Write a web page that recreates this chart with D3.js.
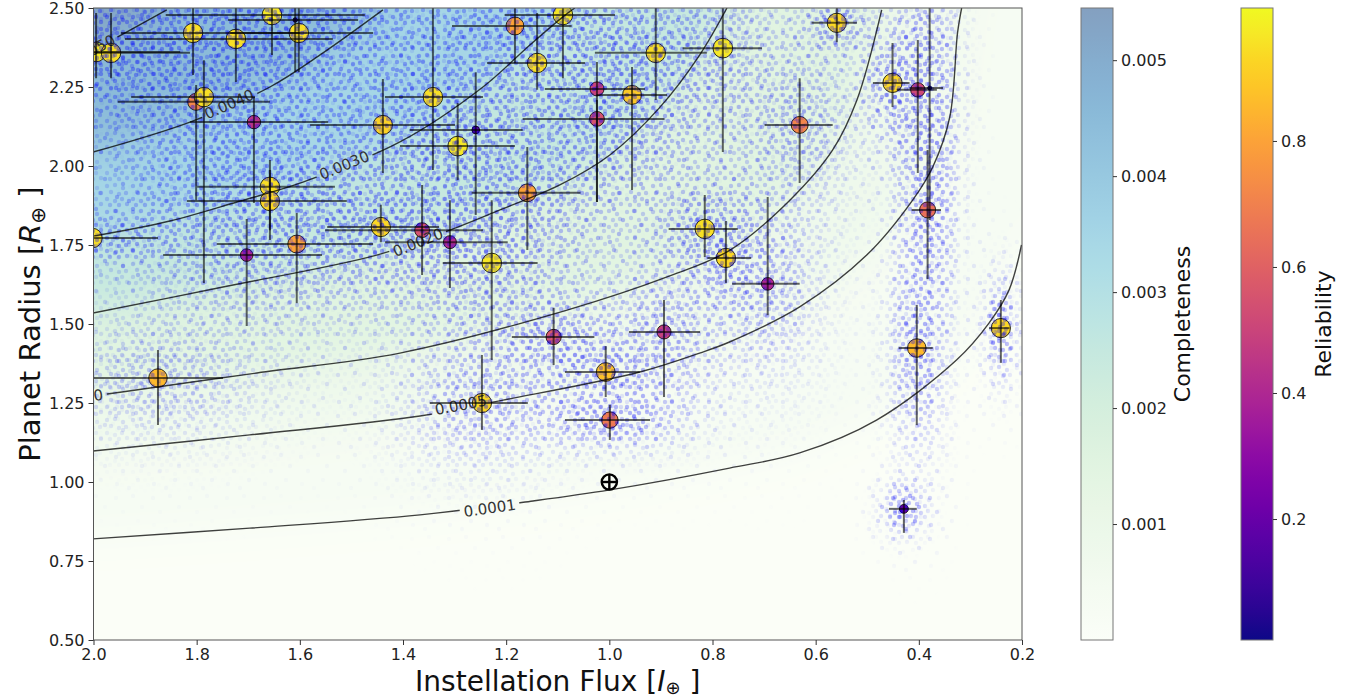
<!DOCTYPE html>
<html>
<head>
<meta charset="utf-8">
<script src="https://cdn.jsdelivr.net/npm/d3@7"></script>
<style>
  body { margin: 0; background: #fff; }
  svg text { font-family: "DejaVu Sans", sans-serif; }
</style>
</head>
<body>
<div id="viz"></div>
<script>
// planet candidates: instellation flux, radius, error bar ends, reliability
const flux     = [1.995, 1.966, 1.807, 1.724, 1.654, 1.602, 1.609, 1.801, 1.786, 1.689, 1.439, 1.658, 1.658, 1.183, 1.090, 1.140, 1.342, 1.294, 1.259, 1.159, 1.024, 1.024, 0.956, 0.910, 0.780, 0.559, 0.631, 0.451, 0.402, 0.379, 0.383, 1.363, 1.309, 1.443, 1.228, 1.703, 1.606, 2.002, 1.875, 1.108, 0.894, 1.007, 1.247, 0.999, 0.815, 0.774, 0.693, 0.404, 0.241, 0.429];
const fluxLo   = [1.832, 1.813, 1.600, 1.536, 1.474, 1.458, 1.487, 1.658, 1.687, 1.545, 1.299, 1.532, 1.509, 1.073, 0.989, 1.047, 1.245, 1.183, 1.168, 1.056, 0.931, 0.893, 0.888, 0.811, 0.704, 0.520, 0.567, 0.418, 0.365, 0.353, 0.357, 1.245, 1.197, 1.330, 1.139, 1.557, 1.458, 1.875, 1.749, 1.029, 0.824, 0.941, 1.158, 0.921, 0.751, 0.725, 0.631, 0.373, 0.224, 0.404];
const fluxHi   = [2.001, 2.001, 1.947, 1.939, 1.860, 1.735, 1.739, 1.953, 1.927, 1.813, 1.580, 1.799, 1.819, 1.305, 1.203, 1.237, 1.435, 1.406, 1.387, 1.267, 1.125, 1.168, 1.025, 1.028, 0.858, 0.608, 0.699, 0.489, 0.443, 0.418, 0.414, 1.551, 1.435, 1.547, 1.323, 1.865, 1.761, 2.100, 2.010, 1.189, 0.962, 1.086, 1.348, 1.086, 0.885, 0.810, 0.762, 0.439, 0.264, 0.458];
const radius   = [2.361, 2.358, 2.421, 2.402, 2.478, 2.421, 2.462, 2.203, 2.218, 2.139, 2.130, 1.934, 1.889, 2.443, 2.478, 2.326, 2.218, 2.063, 2.114, 1.915, 2.244, 2.149, 2.225, 2.358, 2.373, 2.453, 2.130, 2.263, 2.241, 2.247, 1.861, 1.797, 1.759, 1.807, 1.693, 1.718, 1.753, 1.772, 1.329, 1.459, 1.475, 1.348, 1.250, 1.196, 1.801, 1.709, 1.627, 1.424, 1.487, 0.915];
const radiusLo = [2.278, 2.278, 2.288, 2.266, 2.351, 2.297, 2.297, 1.892, 1.630, 1.883, 1.978, 1.797, 1.766, 2.326, 2.278, 2.241, 1.987, 1.956, 1.845, 1.734, 1.886, 1.886, 1.924, 2.209, 2.044, 2.392, 1.946, 2.187, 1.978, 1.829, 1.642, 1.655, 1.614, 1.759, 1.386, 1.494, 1.566, 1.720, 1.180, 1.370, 1.269, 1.269, 1.165, 1.133, 1.712, 1.630, 1.528, 1.180, 1.377, 0.839];
const radiusHi = [2.484, 2.484, 2.550, 2.550, 2.560, 2.550, 2.560, 2.256, 2.335, 2.218, 2.275, 2.019, 1.987, 2.520, 2.600, 2.484, 2.550, 2.199, 2.297, 2.060, 2.329, 2.209, 2.313, 2.500, 2.530, 2.520, 2.278, 2.389, 2.399, 2.550, 2.051, 1.940, 1.892, 1.877, 1.892, 1.832, 1.851, 1.830, 1.418, 1.551, 1.576, 1.430, 1.402, 1.244, 1.908, 1.826, 1.902, 1.560, 1.576, 0.943];
const reliability = [0.97, 0.95, 0.95, 0.95, 0.97, 0.95, 0.05, 0.72, 0.95, 0.45, 0.92, 0.95, 0.93, 0.80, 0.97, 0.95, 0.95, 0.97, 0.15, 0.80, 0.50, 0.55, 0.90, 0.95, 0.97, 0.93, 0.72, 0.93, 0.52, 0.04, 0.65, 0.55, 0.42, 0.93, 0.97, 0.40, 0.80, 0.95, 0.86, 0.58, 0.50, 0.88, 0.93, 0.68, 0.95, 0.93, 0.40, 0.86, 0.93, 0.20];

// completeness contours, as [flux, radius]
const contourLevels = [0.0001, 0.0005, 0.0010, 0.0020, 0.0030, 0.0040, 0.0050];
const contourLabels = ["0.0001", "0.0005", "0.0010", "0.0020", "0.0030", "0.0040", "0.0050"];
const contourPaths = [
  [[2.001,0.820],[1.697,0.854],[1.367,0.896],[1.148,0.940],[0.999,0.975],[0.767,1.044],[0.631,1.092],[0.482,1.196],[0.327,1.386],[0.264,1.503],[0.225,1.608],[0.201,1.750]],
  [[2.001,1.098],[1.697,1.149],[1.367,1.209],[1.206,1.259],[0.941,1.348],[0.825,1.408],[0.767,1.443],[0.631,1.554],[0.501,1.718],[0.412,1.892],[0.373,1.997],[0.340,2.155],[0.325,2.421],[0.317,2.500]],
  [[2.001,1.272],[1.945,1.285],[1.683,1.345],[1.406,1.408],[1.082,1.544],[0.888,1.649],[0.766,1.734],[0.650,1.892],[0.567,2.051],[0.520,2.209],[0.472,2.494]],
  [[2.001,1.535],[1.749,1.617],[1.451,1.718],[1.319,1.791],[1.212,1.861],[1.096,1.940],[0.999,2.035],[0.903,2.184],[0.825,2.351],[0.772,2.500]],
  [[2.001,1.778],[1.852,1.826],[1.722,1.886],[1.594,1.949],[1.406,2.076],[1.245,2.250],[1.154,2.383],[1.090,2.472],[1.067,2.500]],
  [[2.001,2.044],[1.813,2.139],[1.658,2.250],[1.555,2.358],[1.439,2.494]],
  [[2.001,2.367],[1.929,2.430],[1.858,2.494]]
];
const labelAt = [[1.232,0.918],[1.288,1.244],[2.032,1.266],[1.371,1.759],[1.514,2.003],[1.737,2.196],[2.005,2.364]];

const xTicks = [2.0, 1.8, 1.6, 1.4, 1.2, 1.0, 0.8, 0.6, 0.4, 0.2];
const yTicks = [0.50, 0.75, 1.00, 1.25, 1.50, 1.75, 2.00, 2.25, 2.50];
const compTicks = [0.001, 0.002, 0.003, 0.004, 0.005];
const relTicks = [0.2, 0.4, 0.6, 0.8];
const compMax = 0.00545;
const relDomain = [0.008, 1.011];

const W = 1361, H = 700;
const plot = {left: 93.5, right: 1022, top: 8, bottom: 640};

const svg = d3.select("#viz").append("svg").attr("width", W).attr("height", H);
const defs = svg.append("defs");

const x = d3.scaleLinear().domain([2.0, 0.2]).range([plot.left, plot.right]);
const y = d3.scaleLinear().domain([0.5, 2.5]).range([plot.bottom, plot.top]);
const compColor = v => d3.interpolateRgb("#ffffff", d3.interpolateGnBu(Math.min(1, v / compMax)))(0.5);
const relColor = d3.scaleSequential(d3.interpolatePlasma).domain(relDomain);
const rSize = d3.scaleSqrt().domain([0, 1]).range([0, 10]);

defs.append("clipPath").attr("id", "plotClip").append("rect")
  .attr("x", plot.left).attr("y", plot.top)
  .attr("width", plot.right - plot.left).attr("height", plot.bottom - plot.top);

// ---- completeness background: bands between contours, blurred into a smooth field
const blur = defs.append("filter").attr("id", "smooth")
  .attr("filterUnits", "userSpaceOnUse").attr("x", -400).attr("y", -400).attr("width", 2200).attr("height", 1600);
blur.append("feGaussianBlur").attr("stdDeviation", 22);

const heat = svg.append("g").attr("clip-path", "url(#plotClip)").append("g").attr("filter", "url(#smooth)");
heat.append("rect").attr("x", -300).attr("y", -300).attr("width", 1700).attr("height", 1300)
  .attr("fill", compColor(0.00003));

const bandVal = contourLevels.map((lv, i) => i < contourLevels.length - 1 ? (lv + contourLevels[i + 1]) / 2 : 0.0053);
const pixPaths = contourPaths.map(p => p.map(([f, r]) => [x(f), y(r)]));

pixPaths.forEach((pts, i) => {
  const poly = [[-300, pts[0][1]], ...pts];
  const last = pts[pts.length - 1];
  if (last[0] > plot.right - 5) {
    poly.push([last[0] + 150, last[1] - 150], [last[0] + 150, -300]);
  } else {
    poly.push([last[0] + 15, -300]);
  }
  poly.push([-300, -300]);
  heat.append("path").attr("d", "M" + poly.join("L") + "Z").attr("fill", compColor(bandVal[i]));
});

// ---- candidate markers
const planets = d3.range(flux.length).map(i => ({
  cx: x(flux[i]), cy: y(radius[i]),
  x1: x(fluxHi[i]), x2: x(fluxLo[i]),
  y1: y(radiusHi[i]), y2: y(radiusLo[i]),
  rel: reliability[i]
}));

const marks = svg.append("g").attr("clip-path", "url(#plotClip)");
marks.selectAll("circle").data(planets).join("circle")
  .attr("cx", d => d.cx).attr("cy", d => d.cy)
  .attr("r", d => rSize(d.rel))
  .attr("fill", d => relColor(d.rel))
  .attr("stroke", "#000").attr("stroke-opacity", 0.8).attr("stroke-width", 1);

// ---- posterior sample clouds: dot texture masked by a gaussian blob per candidate
const gauss = defs.append("radialGradient").attr("id", "gauss");
[[0, 1], [0.2, 0.83], [0.35, 0.58], [0.5, 0.32], [0.67, 0.13], [0.83, 0.045], [1, 0]]
  .forEach(([o, a]) => gauss.append("stop").attr("offset", o).attr("stop-color", "#fff").attr("stop-opacity", a));

function dotPattern(id, w, h, dots) {
  const p = defs.append("pattern").attr("id", id).attr("patternUnits", "userSpaceOnUse")
    .attr("width", w).attr("height", h);
  dots.forEach(([dx, dy]) => p.append("circle").attr("cx", dx).attr("cy", dy).attr("r", 2.2)
    .attr("fill", "#0000ff").attr("fill-opacity", 0.33));
}
dotPattern("dotsA", 26, 26, [[3,4],[11,3],[19,6],[7,10],[15,12],[22,11],[3,17],[11,19],[18,17],[23,22],[6,23],[15,23]]);
dotPattern("dotsB", 21, 23, [[4,3],[13,5],[18,11],[8,10],[3,15],[12,16],[17,19],[6,20]]);
dotPattern("dotsC", 37, 41, [[5,6],[22,4],[31,15],[12,20],[27,29],[6,33],[18,37]]);

function cloudMask(id, spread, gain) {
  const m = defs.append("mask").attr("id", id).attr("maskUnits", "userSpaceOnUse")
    .attr("x", 0).attr("y", 0).attr("width", W).attr("height", H);
  m.selectAll("ellipse").data(planets).join("ellipse")
    .attr("cx", d => d.cx).attr("cy", d => d.cy)
    .attr("rx", d => spread * Math.max(7, (d.x2 - d.x1) / 2))
    .attr("ry", d => spread * Math.max(7, (d.y2 - d.y1) / 2))
    .attr("fill", "url(#gauss)")
    .attr("fill-opacity", d => Math.min(1, gain / Math.sqrt(Math.max(7, (d.x2 - d.x1) / 2) * Math.max(7, (d.y2 - d.y1) / 2))));
}
cloudMask("cloudA", 3.2, 32);
cloudMask("cloudB", 2.0, 20);
cloudMask("cloudC", 4.4, 22);

const cloud = svg.append("g").attr("clip-path", "url(#plotClip)");
[["dotsA", "cloudA"], ["dotsB", "cloudB"], ["dotsC", "cloudC"]].forEach(([pat, msk]) => {
  cloud.append("rect").attr("x", plot.left).attr("y", plot.top)
    .attr("width", plot.right - plot.left).attr("height", plot.bottom - plot.top)
    .attr("fill", `url(#${pat})`).attr("mask", `url(#${msk})`);
});

// ---- contour lines with inline labels
const labelFont = 15;
const labelInfo = labelAt.map(([f, r], i) => {
  const lx = x(f), ly = y(r);
  const pts = pixPaths[i];
  let j = d3.minIndex(pts, p => (p[0] - lx) ** 2 + (p[1] - ly) ** 2);
  if (j === pts.length - 1) j -= 1;
  const ang = Math.atan2(pts[j + 1][1] - pts[j][1], pts[j + 1][0] - pts[j][0]) * 180 / Math.PI;
  return {lx, ly, ang, text: contourLabels[i]};
});

const gapMask = defs.append("mask").attr("id", "labelGaps").attr("maskUnits", "userSpaceOnUse")
  .attr("x", 0).attr("y", 0).attr("width", W).attr("height", H);
gapMask.append("rect").attr("width", W).attr("height", H).attr("fill", "#fff");
gapMask.selectAll("rect.gap").data(labelInfo).join("rect").attr("class", "gap")
  .attr("x", -30).attr("y", -8).attr("width", 60).attr("height", 16)
  .attr("transform", d => `translate(${d.lx},${d.ly}) rotate(${d.ang})`)
  .attr("fill", "#000");

const line = d3.line().curve(d3.curveCatmullRom.alpha(0.5));
const contourG = svg.append("g").attr("clip-path", "url(#plotClip)");
contourG.append("g").attr("mask", "url(#labelGaps)")
  .selectAll("path").data(pixPaths).join("path")
  .attr("d", line).attr("fill", "none")
  .attr("stroke", "#000").attr("stroke-opacity", 0.75).attr("stroke-width", 1.4);
contourG.selectAll("text").data(labelInfo).join("text")
  .attr("transform", d => `translate(${d.lx},${d.ly}) rotate(${d.ang})`)
  .attr("text-anchor", "middle").attr("dy", "0.36em")
  .attr("font-size", labelFont).attr("fill", "#333")
  .text(d => d.text);

// ---- error bars
const bars = svg.append("g").attr("clip-path", "url(#plotClip)")
  .attr("stroke", "#000").attr("stroke-opacity", 0.6).attr("stroke-width", 2);
bars.selectAll("line.h").data(planets).join("line").attr("class", "h")
  .attr("x1", d => d.x1).attr("x2", d => d.x2).attr("y1", d => d.cy).attr("y2", d => d.cy);
bars.selectAll("line.v").data(planets).join("line").attr("class", "v")
  .attr("x1", d => d.cx).attr("x2", d => d.cx).attr("y1", d => d.y1).attr("y2", d => d.y2);

// ---- Earth
const earth = svg.append("g").attr("transform", `translate(${x(1.0)},${y(1.0)})`)
  .attr("stroke", "#000").attr("stroke-width", 2.4).attr("fill", "none");
earth.append("circle").attr("r", 7.6);
earth.append("line").attr("x1", -7.6).attr("x2", 7.6);
earth.append("line").attr("y1", -7.6).attr("y2", 7.6);

// ---- frame and axes
svg.append("rect").attr("x", plot.left).attr("y", plot.top)
  .attr("width", plot.right - plot.left).attr("height", plot.bottom - plot.top)
  .attr("fill", "none").attr("stroke", "#555").attr("stroke-width", 1);

function styleAxis(g) {
  g.select(".domain").remove();
  g.selectAll(".tick line").attr("stroke", "#333");
  g.selectAll("text").attr("font-size", 16).attr("font-family", "DejaVu Sans").attr("fill", "#222");
}
svg.append("g").attr("transform", `translate(0,${plot.bottom})`)
  .call(d3.axisBottom(x).tickValues(xTicks).tickFormat(d3.format(".1f")).tickSize(5).tickPadding(4))
  .call(styleAxis);
svg.append("g").attr("transform", `translate(${plot.left},0)`)
  .call(d3.axisLeft(y).tickValues(yTicks).tickFormat(d3.format(".2f")).tickSize(5).tickPadding(4))
  .call(styleAxis);

const ylab = svg.append("text").attr("transform", `translate(40,${(plot.top + plot.bottom) / 2}) rotate(-90)`)
  .attr("text-anchor", "middle").attr("font-size", 29).attr("fill", "#111");
ylab.append("tspan").text("Planet Radius [");
ylab.append("tspan").attr("font-style", "italic").text("R");
ylab.append("tspan").attr("font-size", 20).attr("dy", 5).text("\u2295");
ylab.append("tspan").attr("dy", -5).text(" ]");

const xlab = svg.append("text").attr("x", (plot.left + plot.right) / 2).attr("y", 691)
  .attr("text-anchor", "middle").attr("font-size", 28).attr("fill", "#111");
xlab.append("tspan").text("Instellation Flux [");
xlab.append("tspan").attr("font-style", "italic").text("I");
xlab.append("tspan").attr("font-size", 18).attr("dy", 3).text("\u2295");
xlab.append("tspan").attr("dy", -3).text(" ]");

// ---- colour bars
function colorBar(id, left, scale, colorFn, ticks, fmt, label, labelX) {
  const n = 24;
  const [d0, d1] = scale.domain();
  const grad = defs.append("linearGradient").attr("id", id)
    .attr("x1", 0).attr("y1", 1).attr("x2", 0).attr("y2", 0);
  d3.range(n + 1).forEach(k => grad.append("stop").attr("offset", k / n)
    .attr("stop-color", colorFn(d0 + (d1 - d0) * k / n)));
  svg.append("rect").attr("x", left).attr("y", plot.top).attr("width", 32)
    .attr("height", plot.bottom - plot.top).attr("fill", `url(#${id})`)
    .attr("stroke", "#777").attr("stroke-width", 1);
  svg.append("g").attr("transform", `translate(${left + 32},0)`)
    .call(d3.axisRight(scale).tickValues(ticks).tickFormat(d3.format(fmt)).tickSize(4).tickPadding(4))
    .call(styleAxis);
  svg.append("text").attr("transform", `translate(${labelX},${(plot.top + plot.bottom) / 2}) rotate(-90)`)
    .attr("text-anchor", "middle").attr("font-size", 22).attr("fill", "#111").text(label);
}
const compScale = d3.scaleLinear().domain([0, compMax]).range([plot.bottom, plot.top]);
const relScale = d3.scaleLinear().domain(relDomain).range([plot.bottom, plot.top]);
colorBar("compGrad", 1081, compScale, compColor, compTicks, ".3f", "Completeness", 1190);
colorBar("relGrad", 1241, relScale, v => relColor(v), relTicks, ".1f", "Reliability", 1331);
</script>
</body>
</html>
